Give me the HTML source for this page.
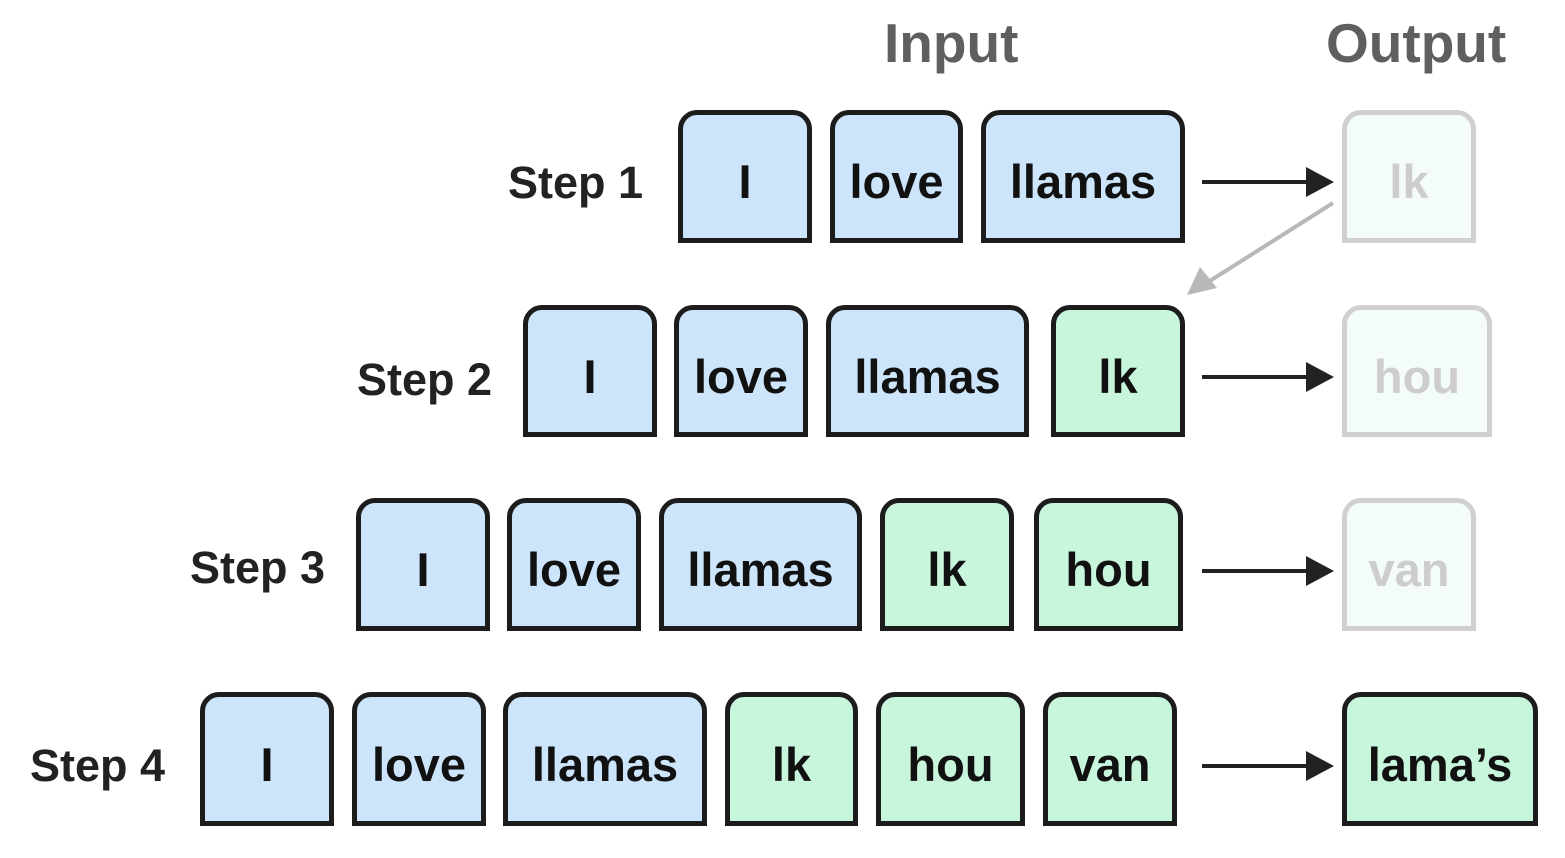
<!DOCTYPE html>
<html><head><meta charset="utf-8"><style>
body{margin:0;width:1565px;height:858px;background:#fff;position:relative;overflow:hidden;font-family:"Liberation Sans",Arial,sans-serif;}
.b{position:absolute;box-sizing:border-box;border:5px solid #1c1c1c;border-radius:19px 19px 0 0;display:flex;align-items:center;justify-content:center;font-weight:bold;font-size:47px;color:#111;padding-top:10px;}
.bl{background:#cde5fa}
.gr{background:#c8f6dc}
.f{border-color:#d0d0d0;background:#f4fcf7;color:#cdcdcd}
.s{position:absolute;font-weight:bold;font-size:45px;color:#222;white-space:nowrap;line-height:1}
.h{position:absolute;font-weight:bold;font-size:55px;color:#5f5f5f;line-height:1}
</style></head><body>
<div class="h" style="left:884px;top:16px">Input</div>
<div class="h" style="left:1326px;top:16px">Output</div>

<div class="s" style="left:508px;top:160px">Step 1</div>
<div class="b bl" style="left:678px;top:110px;width:134px;height:133px">I</div>
<div class="b bl" style="left:830px;top:110px;width:133px;height:133px">love</div>
<div class="b bl" style="left:981px;top:110px;width:204px;height:133px">llamas</div>
<div class="b f" style="left:1342px;top:110px;width:134px;height:133px">lk</div>

<div class="s" style="left:357px;top:357px">Step 2</div>
<div class="b bl" style="left:523px;top:305px;width:134px;height:132px">I</div>
<div class="b bl" style="left:674px;top:305px;width:134px;height:132px">love</div>
<div class="b bl" style="left:826px;top:305px;width:203px;height:132px">llamas</div>
<div class="b gr" style="left:1051px;top:305px;width:134px;height:132px">lk</div>
<div class="b f" style="left:1342px;top:305px;width:150px;height:132px">hou</div>

<div class="s" style="left:190px;top:545px">Step 3</div>
<div class="b bl" style="left:356px;top:498px;width:134px;height:133px">I</div>
<div class="b bl" style="left:507px;top:498px;width:134px;height:133px">love</div>
<div class="b bl" style="left:659px;top:498px;width:203px;height:133px">llamas</div>
<div class="b gr" style="left:880px;top:498px;width:134px;height:133px">lk</div>
<div class="b gr" style="left:1034px;top:498px;width:149px;height:133px">hou</div>
<div class="b f" style="left:1342px;top:498px;width:134px;height:133px">van</div>

<div class="s" style="left:30px;top:743px">Step 4</div>
<div class="b bl" style="left:200px;top:692px;width:134px;height:134px">I</div>
<div class="b bl" style="left:352px;top:692px;width:134px;height:134px">love</div>
<div class="b bl" style="left:503px;top:692px;width:204px;height:134px">llamas</div>
<div class="b gr" style="left:725px;top:692px;width:133px;height:134px">lk</div>
<div class="b gr" style="left:876px;top:692px;width:149px;height:134px">hou</div>
<div class="b gr" style="left:1043px;top:692px;width:134px;height:134px">van</div>
<div class="b gr" style="left:1342px;top:692px;width:196px;height:134px">lama’s</div>

<svg width="1565" height="858" style="position:absolute;left:0;top:0">
<g stroke="#222" stroke-width="4" fill="#222">
<line x1="1202" y1="182" x2="1308" y2="182"/><polygon points="1306,167 1334,182 1306,197" stroke="none"/>
<line x1="1202" y1="377" x2="1308" y2="377"/><polygon points="1306,362 1334,377 1306,392" stroke="none"/>
<line x1="1202" y1="571" x2="1308" y2="571"/><polygon points="1306,556 1334,571 1306,586" stroke="none"/>
<line x1="1202" y1="766" x2="1308" y2="766"/><polygon points="1306,751 1334,766 1306,781" stroke="none"/>
</g>
<line x1="1333" y1="203" x2="1205" y2="284" stroke="#b8b8b8" stroke-width="4"/>
<polygon points="1187,295 1200,267 1217,288" fill="#b8b8b8"/>
</svg>
</body></html>
